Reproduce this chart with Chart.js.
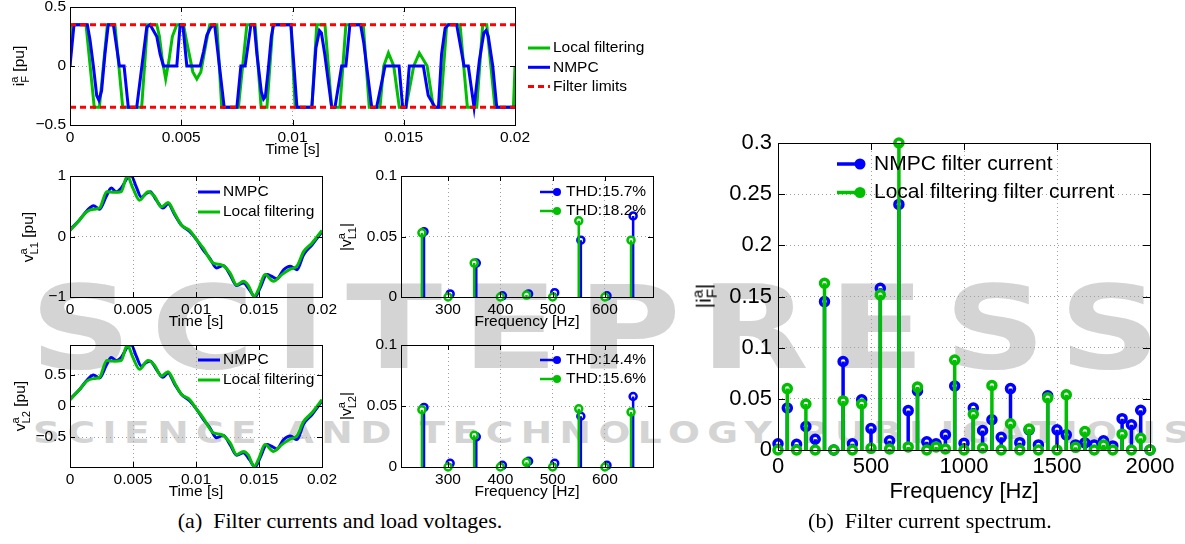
<!DOCTYPE html>
<html>
<head>
<meta charset="utf-8">
<script src="https://cdn.jsdelivr.net/npm/chart.js@4.4.1/dist/chart.umd.min.js"></script>
<style>
html, body { margin: 0; padding: 0; background: #fff; }
body { width: 1185px; height: 544px; overflow: hidden; position: relative; font-family: "Liberation Sans", Arial, sans-serif; color: #000; }
canvas, svg { position: absolute; }
.ylab { position: absolute; transform: translate(-50%, -50%) rotate(-90deg); white-space: nowrap; font-size: 15.5px; line-height: 1; }
.ss { display: inline-block; vertical-align: middle; font-size: 0.72em; line-height: 0.95; text-align: left; }
.cap { position: absolute; transform: translateX(-50%); white-space: nowrap; font-family: "Liberation Serif", "Times New Roman", serif; font-size: 22px; line-height: 1; }
</style>
</head>
<body>
<svg width="1185" height="544" style="left:0;top:0">
  <text x="30" y="368" textLength="1150" lengthAdjust="spacingAndGlyphs" letter-spacing="16" font-family="DejaVu Sans, sans-serif" font-weight="bold" font-size="116" fill="#d4d4d4">SCITEPRESS</text>
  <text x="33" y="443" textLength="1165" lengthAdjust="spacingAndGlyphs" letter-spacing="6" font-family="DejaVu Sans, sans-serif" font-weight="bold" font-size="30" fill="#d4d4d4">SCIENCE AND TECHNOLOGY PUBLICATIONS</text>
</svg>
<canvas id="cTop" width="700" height="180" style="left:0;top:-13px"></canvas>
<canvas id="cVL1" width="345" height="175" style="left:0;top:160px"></canvas>
<canvas id="cVL2" width="345" height="175" style="left:0;top:330px"></canvas>
<canvas id="cH1" width="335" height="175" style="left:345px;top:160px"></canvas>
<canvas id="cH2" width="335" height="175" style="left:345px;top:330px"></canvas>
<canvas id="cSpec" width="495" height="395" style="left:690px;top:120px"></canvas>

<div class="ylab" style="left:20px;top:66px">i<span class="ss">a<br>F</span> [pu]</div>
<div class="ylab" style="left:29px;top:237px">v<span class="ss">a<br>L1</span> [pu]</div>
<div class="ylab" style="left:21px;top:406px">v<span class="ss">a<br>L2</span> [pu]</div>
<div class="ylab" style="left:347px;top:237px">|v<span class="ss">a<br>L1</span>|</div>
<div class="ylab" style="left:347px;top:406px">|v<span class="ss">a<br>L2</span>|</div>
<div class="ylab" style="left:705px;top:296px;font-size:21px">|i<span class="ss">a<br>F</span>|</div>

<div class="cap" style="left:340px;top:510px">(a)&nbsp; Filter currents and load voltages.</div>
<div class="cap" style="left:930px;top:510px">(b)&nbsp; Filter current spectrum.</div>

<script>
// ---- filter current, phase a  [t (s), i (pu)]
const iNmpc = [[0,0],[0.00018,0.35],[0.00078,0.35],[0.0009,0.22],[0.00105,0],[0.0012,-0.25],[0.0013,-0.29],[0.00142,-0.21],[0.00157,0.1],[0.00172,0.35],[0.00195,0.35],[0.00222,0],[0.00243,0],[0.00262,-0.35],[0.003,-0.35],[0.00345,0.33],[0.0036,0.35],[0.0039,0.25],[0.00405,0.1],[0.0042,0],[0.0048,0],[0.00495,0.35],[0.00507,0.35],[0.00525,0],[0.00585,0],[0.006,0.12],[0.00615,0.26],[0.0063,0.32],[0.00645,0.35],[0.0065,0.35],[0.00693,-0.35],[0.0075,-0.35],[0.00768,0],[0.00787,0],[0.00813,0.35],[0.00828,0.35],[0.0084,0.1],[0.0086,-0.22],[0.0087,-0.28],[0.00878,-0.26],[0.0089,-0.05],[0.00905,0.25],[0.00915,0.35],[0.00993,0.35],[0.0102,-0.35],[0.01087,-0.35],[0.01105,0.15],[0.01121,0.3],[0.0113,0.28],[0.01145,0.1],[0.01176,-0.35],[0.01191,-0.35],[0.01221,0],[0.0124,0],[0.01258,0.35],[0.01306,0.35],[0.0132,0.2],[0.01356,-0.35],[0.01378,-0.35],[0.01416,0],[0.01479,0],[0.01495,-0.35],[0.0151,-0.35],[0.01525,0],[0.01588,0],[0.0161,-0.25],[0.01641,-0.35],[0.01656,-0.35],[0.0167,0.1],[0.01686,0.32],[0.01701,0.35],[0.01738,0.35],[0.01771,0],[0.0179,0],[0.01816,-0.35],[0.0184,0.05],[0.0186,0.28],[0.0187,0.3],[0.0188,0.25],[0.019,0],[0.01918,-0.35],[0.02,-0.35]]
const iLocal = [[0,0],[0.00005,0.35],[0.00072,0.35],[0.00109,-0.35],[0.00132,-0.35],[0.00168,0.35],[0.00202,0.35],[0.00237,-0.35],[0.00322,-0.35],[0.00348,0.35],[0.0039,0.35],[0.00402,0.25],[0.00415,0.05],[0.0043,-0.11],[0.00445,0.05],[0.0046,0.25],[0.0048,0.35],[0.0051,0.35],[0.00525,0.2],[0.00552,-0.05],[0.0057,-0.11],[0.00588,-0.05],[0.00612,0.2],[0.00628,0.35],[0.0066,0.35],[0.00682,-0.35],[0.00757,-0.35],[0.00795,0.35],[0.00832,0.35],[0.00859,-0.35],[0.00885,-0.35],[0.00912,0.35],[0.00993,0.35],[0.01012,-0.35],[0.01087,-0.35],[0.01109,0.35],[0.01146,0.35],[0.01176,-0.35],[0.01213,-0.35],[0.0124,0.35],[0.01318,0.35],[0.01345,-0.35],[0.01393,-0.35],[0.0141,0],[0.01431,0.11],[0.01455,0],[0.0148,-0.35],[0.0151,-0.35],[0.01545,0],[0.0157,0.11],[0.01605,0],[0.01633,-0.35],[0.01666,-0.35],[0.01693,0.35],[0.01753,0.35],[0.01786,-0.35],[0.01828,-0.35],[0.01855,0.35],[0.01873,0.35],[0.0191,-0.35],[0.01993,-0.35],[0.02,0]]
const filterLimit = 0.35
const timeTicks = [0, 0.005, 0.01, 0.015, 0.02]
const iTicks = [-0.5, 0, 0.5]

// ---- load voltages  [t (s), v (pu)]
const vL1Nmpc = [[0,0.11],[0.00074,0.27],[0.00141,0.44],[0.00186,0.51],[0.00234,0.45],[0.00287,0.66],[0.00327,0.8],[0.00367,0.74],[0.00406,0.8],[0.0046,0.98],[0.00486,1],[0.00526,0.82],[0.00566,0.65],[0.00606,0.71],[0.00637,0.74],[0.00685,0.6],[0.00738,0.47],[0.00778,0.54],[0.00831,0.36],[0.00884,0.19],[0.00951,0.08],[0.01004,-0.05],[0.01057,-0.22],[0.0111,-0.36],[0.01163,-0.52],[0.01216,-0.48],[0.0127,-0.63],[0.01323,-0.81],[0.01376,-0.77],[0.01424,-0.88],[0.01469,-1],[0.01509,-0.85],[0.01562,-0.63],[0.01602,-0.66],[0.01641,-0.7],[0.01695,-0.55],[0.01748,-0.49],[0.01801,-0.55],[0.01854,-0.3],[0.0192,-0.14],[0.02,0.08]]
const vL1Local = [[0,0.1],[0.00074,0.27],[0.00133,0.41],[0.00186,0.45],[0.00234,0.47],[0.00292,0.74],[0.00353,0.73],[0.00406,0.74],[0.00454,1],[0.00499,0.8],[0.00552,0.6],[0.00619,0.74],[0.00672,0.66],[0.00725,0.49],[0.00778,0.56],[0.00831,0.38],[0.00884,0.19],[0.00951,0.1],[0.01004,-0.05],[0.01057,-0.19],[0.01137,-0.44],[0.01203,-0.47],[0.0127,-0.6],[0.01323,-0.8],[0.01376,-0.74],[0.01416,-0.81],[0.01461,-0.99],[0.01495,-0.88],[0.01548,-0.63],[0.01615,-0.74],[0.01681,-0.63],[0.01748,-0.54],[0.01801,-0.49],[0.01854,-0.25],[0.0192,-0.11],[0.02,0.1]]
const vL2Nmpc = [[0,0.11],[0.00074,0.26],[0.00141,0.43],[0.00186,0.5],[0.00234,0.45],[0.00287,0.65],[0.00327,0.78],[0.00367,0.73],[0.00406,0.78],[0.0046,0.96],[0.00486,0.98],[0.00526,0.8],[0.00566,0.64],[0.00606,0.7],[0.00637,0.72],[0.00685,0.59],[0.00738,0.46],[0.00778,0.53],[0.00831,0.35],[0.00884,0.19],[0.00951,0.08],[0.01004,-0.05],[0.01057,-0.21],[0.0111,-0.35],[0.01163,-0.51],[0.01216,-0.47],[0.0127,-0.62],[0.01323,-0.79],[0.01376,-0.75],[0.01424,-0.86],[0.01469,-0.98],[0.01509,-0.83],[0.01562,-0.62],[0.01602,-0.65],[0.01641,-0.69],[0.01695,-0.54],[0.01748,-0.48],[0.01801,-0.54],[0.01854,-0.29],[0.0192,-0.14],[0.02,0.08]]
const vL2Local = [[0,0.1],[0.00074,0.26],[0.00133,0.4],[0.00186,0.44],[0.00234,0.46],[0.00292,0.73],[0.00353,0.72],[0.00406,0.73],[0.00454,0.98],[0.00499,0.78],[0.00552,0.59],[0.00619,0.73],[0.00672,0.65],[0.00725,0.48],[0.00778,0.55],[0.00831,0.37],[0.00884,0.19],[0.00951,0.1],[0.01004,-0.05],[0.01057,-0.19],[0.01137,-0.43],[0.01203,-0.46],[0.0127,-0.59],[0.01323,-0.78],[0.01376,-0.73],[0.01416,-0.79],[0.01461,-0.97],[0.01495,-0.86],[0.01548,-0.62],[0.01615,-0.73],[0.01681,-0.62],[0.01748,-0.53],[0.01801,-0.48],[0.01854,-0.25],[0.0192,-0.11],[0.02,0.1]]
const vL1Ticks = [-1, 0, 1]
const vL2Ticks = [-0.5, 0, 0.5]

// ---- load voltage harmonics
const harmFreq = [250, 300, 350, 400, 450, 500, 550, 600, 650]
const vL1HarmNmpc = [0.054, 0.0025, 0.028, 0.001, 0.0025, 0.0036, 0.047, 0.001, 0.067]
const vL1HarmLocal = [0.053, 0, 0.028, 0, 0.0016, 0, 0.063, 0, 0.047]
const vL2HarmNmpc = [0.0488, 0.003, 0.0247, 0.0014, 0.0047, 0.003, 0.0416, 0.0014, 0.0578]
const vL2HarmLocal = [0.047, 0, 0.026, 0, 0.0038, 0, 0.0477, 0, 0.045]
const harmTicks = [300, 400, 500, 600]
const harmYTicks = [0, 0.05, 0.1]
const thdL1 = ['THD:15.7%', 'THD:18.2%']
const thdL2 = ['THD:14.4%', 'THD:15.6%']

// ---- filter current spectrum
const specFreq = [0,50,100,150,200,250,300,350,400,450,500,550,600,650,700,750,800,850,900,950,1000,1050,1100,1150,1200,1250,1300,1350,1400,1450,1500,1550,1600,1650,1700,1750,1800,1850,1900,1950,2000]
const specNmpc = [0.006,0.041,0.0056,0.023,0.0105,0.145,0,0.0865,0.006,0.049,0.021,0.158,0.009,0.24,0.0385,0.0576,0.008,0.006,0.015,0.0625,0.0066,0.041,0.019,0.0296,0.0125,0.06,0.0072,0.0197,0.005,0.053,0.0197,0.0148,0.005,0.007,0.005,0.009,0.004,0.0306,0.0247,0.0388,0]
const specLocal = [0,0.06,0,0.045,0,0.163,0,0.048,0,0.045,0.0016,0.1516,0.001,0.3,0.003,0.0615,0,0.003,0.001,0.088,0,0.035,0.002,0.063,0,0.0257,0,0.0204,0,0.051,0,0.054,0.0026,0.018,0,0.005,0,0.0155,0,0.0115,0]
const specXTicks = [0, 500, 1000, 1500, 2000]
const specYTicks = [0, 0.05, 0.1, 0.15, 0.2, 0.25, 0.3]

const BLUE = '#0000ff', GREEN = '#00bf00', RED = '#ff0000'
Chart.defaults.font.family = '"Liberation Sans", Arial, Helvetica, sans-serif'
Chart.defaults.color = '#000'

const pts = arr => arr.map(([x, y]) => ({ x, y }))

// stem = vertical segment from 0 plus a ring at the top
function stemLine(freqs, vals, shift) {
    const out = []
    freqs.forEach((f, i) => out.push({ x: f + shift, y: 0 }, { x: f + shift, y: vals[i] }, { x: f + shift, y: null }))
    return out
}
const stemHeads = (freqs, vals, shift) => freqs.map((f, i) => ({ x: f + shift, y: vals[i] }))

// matlab-ish box with inward ticks
const frame = {
    id: 'frame',
    afterDatasetsDraw(chart, args, o) {
        const { ctx, chartArea: a, scales: { x, y } } = chart
        const t = o.tick || 5
        ctx.save()
        ctx.strokeStyle = '#000'
        ctx.lineWidth = 1
        ctx.beginPath()
        x.ticks.forEach(k => {
            const px = Math.round(x.getPixelForValue(k.value)) + 0.5
            ctx.moveTo(px, a.bottom); ctx.lineTo(px, a.bottom - t)
            ctx.moveTo(px, a.top); ctx.lineTo(px, a.top + t)
        })
        y.ticks.forEach(k => {
            const py = Math.round(y.getPixelForValue(k.value)) + 0.5
            ctx.moveTo(a.left, py); ctx.lineTo(a.left + t, py)
            ctx.moveTo(a.right, py); ctx.lineTo(a.right - t, py)
        })
        ctx.stroke()
        ctx.strokeRect(Math.round(a.left) + 0.5, Math.round(a.top) + 0.5, Math.round(a.right - a.left), Math.round(a.bottom - a.top))
        ctx.restore()
    }
}

const matLegend = {
    id: 'matLegend',
    afterDraw(chart, args, o) {
        if (!o || !o.items) return
        const { ctx, chartArea: a } = chart
        ctx.save()
        ctx.font = o.size + 'px "Liberation Sans", Arial, sans-serif'
        ctx.textBaseline = 'middle'
        o.items.forEach((k, i) => {
            const ds = chart.data.datasets[k]
            const x = a.left + o.x, y = a.top + o.y + i * o.row
            ctx.strokeStyle = ds.borderColor
            ctx.lineWidth = ds.borderWidth
            ctx.setLineDash(ds.borderDash || [])
            ctx.beginPath(); ctx.moveTo(x, y); ctx.lineTo(x + o.len, y); ctx.stroke()
            ctx.setLineDash([])
            if (o.marker) {
                ctx.beginPath(); ctx.arc(x + o.len, y, o.marker, 0, 2 * Math.PI)
                ctx.fillStyle = ds.borderColor; ctx.fill()
            }
            ctx.fillStyle = '#000'
            ctx.fillText(ds.label, x + o.len + o.gap, y)
        })
        ctx.restore()
    }
}
Chart.register(frame, matLegend)

const fmt = v => String(+Number(v).toFixed(6)).replace('-', '\u2212')

function axes(o) {
    const grid = { color: '#a0a0a0', lineWidth: 1, drawTicks: false }
    const border = { display: false, dash: [1, 3] }
    return {
        x: {
            type: 'linear', min: o.x[0], max: o.x[1], grid, border,
            afterBuildTicks: s => { s.ticks = o.xTicks.map(v => ({ value: v })) },
            afterFit: s => { s.height = o.xH; s.paddingLeft = 0; s.paddingRight = 0 },
            ticks: { font: { size: o.fs }, padding: o.xPad, maxRotation: 0, autoSkip: false, callback: fmt },
            title: { display: true, text: o.xTitle, font: { size: o.fs, lineHeight: 1.2 }, padding: 0 }
        },
        y: {
            type: 'linear', min: o.y[0], max: o.y[1], grid, border,
            afterBuildTicks: s => { s.ticks = o.yTicks.map(v => ({ value: v })) },
            afterFit: s => { s.width = o.yW; s.paddingTop = 0; s.paddingBottom = 0 },
            ticks: { font: { size: o.fs }, padding: o.yPad || 4, autoSkip: false, callback: fmt }
        }
    }
}

function makeChart(id, datasets, o) {
    return new Chart(document.getElementById(id), {
        type: 'line',
        data: { datasets },
        options: {
            responsive: false, animation: false, events: [],
            layout: { padding: o.pad },
            scales: axes(o),
            plugins: { legend: { display: false }, tooltip: { enabled: false }, frame: { tick: o.tick }, matLegend: o.legend }
        }
    })
}

const wave = (label, data, color, order, smooth) => ({
    label, data: pts(data), borderColor: color, borderWidth: 3, pointRadius: 0, fill: false, order,
    cubicInterpolationMode: smooth ? 'monotone' : 'default', tension: smooth ? 0.4 : 0
})

// top panel
makeChart('cTop', [
    wave('Local filtering', iLocal, GREEN, 2, false),
    wave('NMPC', iNmpc, BLUE, 1, false),
    { label: 'Filter limits', data: pts([[timeTicks[0], filterLimit], [timeTicks[timeTicks.length - 1], filterLimit]]), borderColor: RED, borderWidth: 3, borderDash: [6, 4], pointRadius: 0, order: 0 },
    { label: '', data: pts([[timeTicks[0], -filterLimit], [timeTicks[timeTicks.length - 1], -filterLimit]]), borderColor: RED, borderWidth: 3, borderDash: [6, 4], pointRadius: 0, order: 0 }
], {
    x: [0, 0.02], xTicks: timeTicks, y: [-0.5, 0.5], yTicks: iTicks, xTitle: 'Time [s]', fs: 15.5,
    yW: 70, xH: 34, xPad: 3, pad: { left: 0, top: 20, right: 185, bottom: 8 }, tick: 5,
    legend: { items: [0, 1, 2], x: 458, y: 41, row: 19.3, len: 22, gap: 3, size: 15.5 }
})

// load voltage panels
const vOpts = (yr, yt) => ({
    x: [0, 0.02], xTicks: timeTicks, y: yr, yTicks: yt, xTitle: 'Time [s]', fs: 15.5,
    yW: 70, xH: 34, xPad: 3, pad: { left: 0, top: 16, right: 23, bottom: 4 }, tick: 5,
    legend: { items: [0, 1], x: 128, y: 16, row: 20, len: 22, gap: 3, size: 15.5 }
})
makeChart('cVL1', [wave('NMPC', vL1Nmpc, BLUE, 1, true), wave('Local filtering', vL1Local, GREEN, 0, true)], vOpts([-1, 1], vL1Ticks))
const o2 = vOpts([-0.98, 0.98], vL2Ticks); o2.pad.top = 15; o2.legend.y = 15
makeChart('cVL2', [wave('NMPC', vL2Nmpc, BLUE, 1, true), wave('Local filtering', vL2Local, GREEN, 0, true)], o2)

// harmonic stem panels
const nmpcShift = 4
function stems(label, freqs, vals, color, shift, order, lw, r, bw) {
    return [
        { label, data: stemLine(freqs, vals, shift), borderColor: color, borderWidth: lw, pointRadius: 0, spanGaps: false, order, clip: false },
        { label: label + ' ', data: stemHeads(freqs, vals, shift), showLine: false, pointRadius: r, pointBorderWidth: bw, pointBorderColor: color, pointBackgroundColor: '#fff', borderColor: color, order, clip: false }
    ]
}
const hOpts = (top) => ({
    x: [210, 692], xTicks: harmTicks, y: [0, 0.1], yTicks: harmYTicks, xTitle: 'Frequency [Hz]', fs: 15.5,
    yW: 56, xH: 34, xPad: 3, pad: { left: 0, top, right: 27, bottom: 4 }, tick: 5,
    legend: { items: [0, 2], x: 139, y: top, row: 19, len: 17, gap: 9, size: 15.5, marker: 4 }
})
makeChart('cH1', [...stems(thdL1[0], harmFreq, vL1HarmNmpc, BLUE, nmpcShift, 1, 2.5, 3.5, 2.5), ...stems(thdL1[1], harmFreq, vL1HarmLocal, GREEN, 0, 0, 2.5, 3.5, 2.5)], hOpts(16))
makeChart('cH2', [...stems(thdL2[0], harmFreq, vL2HarmNmpc, BLUE, nmpcShift, 1, 2.5, 3.5, 2.5), ...stems(thdL2[1], harmFreq, vL2HarmLocal, GREEN, 0, 0, 2.5, 3.5, 2.5)], hOpts(15))

// filter current spectrum
makeChart('cSpec', [...stems('NMPC filter current', specFreq, specNmpc, BLUE, 0, 1, 3.5, 4, 3.5), ...stems('Local filtering filter current', specFreq, specLocal, GREEN, 0, 0, 3.5, 4, 3.5)], {
    x: [0, 2000], xTicks: specXTicks, y: [0, 0.3], yTicks: specYTicks, xTitle: 'Frequency [Hz]', fs: 22,
    yW: 88, xH: 55, xPad: 4, yPad: 6, pad: { left: 0, top: 23, right: 35, bottom: 10 }, tick: 7,
    legend: { items: [0, 2], x: 59, y: 21, row: 28.5, len: 23, gap: 14, size: 21, marker: 5.5 }
})
</script>
</body>
</html>
